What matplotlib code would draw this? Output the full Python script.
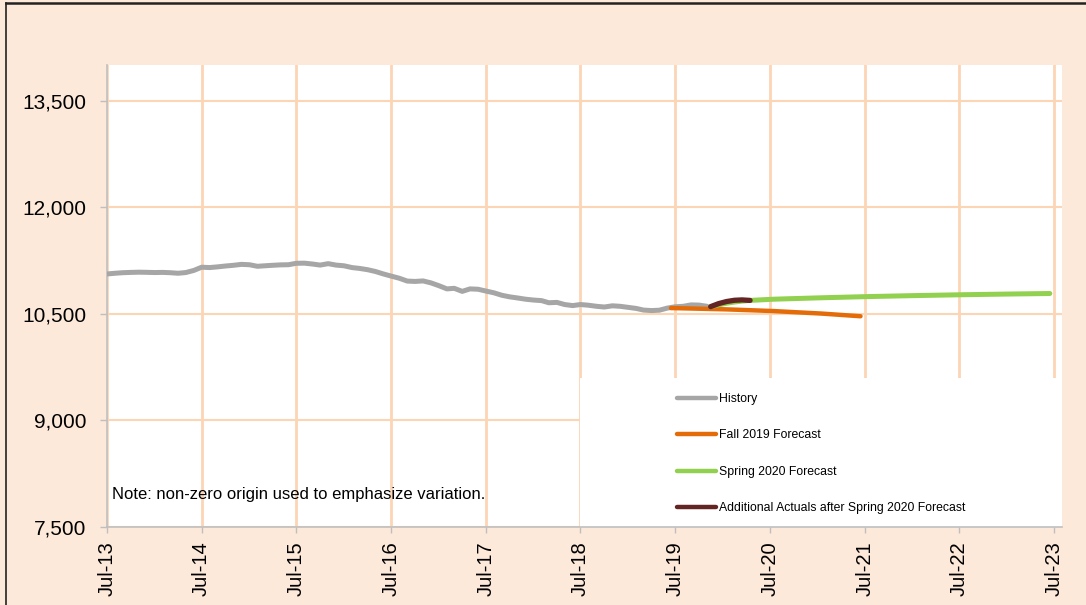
import matplotlib
matplotlib.use("Agg")
import matplotlib.pyplot as plt
import matplotlib.dates as mdates
from matplotlib.lines import Line2D
from matplotlib.patches import Rectangle
from matplotlib.ticker import FuncFormatter, FixedLocator
import pandas as pd

plt.rcParams['font.family'] = ['Liberation Sans', 'DejaVu Sans']

# ---------------- data ----------------
history_start = "2013-07-01"
history_values = [
    11060, 11070, 11078, 11082, 11085, 11083, 11080, 11082, 11078, 11070, 11080, 11110,
    11155, 11150, 11160, 11172, 11182, 11195, 11190, 11168, 11175, 11182, 11188, 11190,
    11210, 11212, 11200, 11185, 11205, 11185, 11175, 11150, 11138, 11120, 11095, 11060,
    11030, 11000, 10960, 10955, 10962, 10935, 10895, 10850, 10858, 10815, 10850, 10845,
    10820, 10795, 10760, 10738, 10722, 10705, 10693, 10685, 10655, 10660, 10630, 10615,
    10630, 10620, 10605, 10595, 10612, 10605, 10590, 10575, 10552, 10545, 10550, 10580,
    10598, 10605, 10625, 10622, 10605,
]

fall2019_dates = ["2019-06-15", "2019-07-15", "2020-01-15", "2020-07-15", "2021-01-15", "2021-06-15"]
fall2019_values = [10580, 10578, 10562, 10538, 10503, 10465]

spring2020_dates = ["2019-11-15", "2019-12-15", "2020-01-15", "2020-02-15", "2020-03-15", "2020-04-15",
                    "2020-07-15", "2021-01-15", "2021-07-15", "2022-01-15", "2022-07-15",
                    "2023-01-15", "2023-06-15"]
spring2020_values = [10600, 10625, 10648, 10665, 10678, 10688,
                     10705, 10725, 10742, 10756, 10768, 10778, 10785]

actuals_dates = ["2019-11-15", "2019-12-15", "2020-01-15", "2020-02-15", "2020-03-15", "2020-04-15"]
actuals_values = [10600, 10642, 10672, 10690, 10695, 10688]

y_ticks = [7500, 9000, 10500, 12000, 13500]
x_tick_years = list(range(2013, 2024))

series_labels = ["History", "Fall 2019 Forecast", "Spring 2020 Forecast",
                 "Additional Actuals after Spring 2020 Forecast"]
note_text = "Note: non-zero origin used to emphasize variation."

# ---------------- figure ----------------
BG = "#FDE9D9"
GRID = "#FCD5B4"
fig = plt.figure(figsize=(10.86, 6.05), dpi=100, facecolor=BG)
ax = fig.add_axes([107/1086, 1-527/605, (1062-107)/1086, (527-65)/605])
ax.set_facecolor("white")

hist_dates = pd.date_range(history_start, periods=len(history_values), freq="MS")

ax.plot(hist_dates, history_values, color="#A6A6A6", lw=3.6, solid_capstyle="round", zorder=3,
        label=series_labels[0])
ax.plot(pd.to_datetime(fall2019_dates), fall2019_values, color="#E36C09", lw=3.2,
        solid_capstyle="round", zorder=4, label=series_labels[1])
ax.plot(pd.to_datetime(spring2020_dates), spring2020_values, color="#92D050", lw=3.6,
        solid_capstyle="round", zorder=4, label=series_labels[2])
ax.plot(pd.to_datetime(actuals_dates), actuals_values, color="#632523", lw=3.8,
        solid_capstyle="round", zorder=5, label=series_labels[3])

ax.set_xlim(pd.Timestamp("2013-07-01"), pd.Timestamp("2023-08-01"))
ax.set_ylim(7500, 14000)

xt = [mdates.date2num(pd.Timestamp(f"{y}-07-01")) for y in x_tick_years]
ax.xaxis.set_major_locator(FixedLocator(xt))
ax.xaxis.set_major_formatter(mdates.DateFormatter("%b-%y"))
ax.set_yticks(y_ticks)
ax.yaxis.set_major_formatter(FuncFormatter(lambda v, p: f"{int(v):,}"))

ax.grid(True, axis="x", color=GRID, lw=2.0, zorder=0)
ax.grid(True, axis="y", color=GRID, lw=1.5, zorder=0)
ax.set_axisbelow(True)

for s in ["top", "right"]:
    ax.spines[s].set_visible(False)
for s in ["left", "bottom"]:
    ax.spines[s].set_color("#BFBFBF")
    ax.spines[s].set_linewidth(1.2)

ax.tick_params(axis="y", direction="out", length=5, width=1, color="#BFBFBF",
               labelsize=15, pad=10, labelcolor="black")
ax.tick_params(axis="x", direction="out", length=4, width=1, color="#BFBFBF",
               labelsize=14.5, pad=6, labelrotation=90, labelcolor="black")

# white legend area
ax.add_patch(Rectangle(((580-107)/955, 0), 1-(580-107)/955, (527-378)/462,
                       transform=ax.transAxes, facecolor="white", edgecolor="none", zorder=2))

leg = ax.legend(loc="upper left", bbox_to_anchor=((677-107)/955, (527-393)/462),
                frameon=False, fontsize=8.8, handlelength=3.2, handletextpad=0.25,
                labelspacing=2.0, borderpad=0, borderaxespad=0)
for h in leg.get_lines():
    h.set_linewidth(3.2)
leg.set_zorder(6)

ax.text((112-107)/955, (527-495)/462, note_text, transform=ax.transAxes,
        fontsize=12.0, va="center", ha="left", zorder=6)

# figure border (top and left)
fig.add_artist(Line2D([6/1086, 6/1086], [0, 1-3/605], transform=fig.transFigure,
                      color="#222222", lw=1.2))
fig.add_artist(Line2D([6/1086, 1], [1-3/605, 1-3/605], transform=fig.transFigure,
                      color="#222222", lw=1.8))

fig.savefig("out.png", dpi=100, facecolor=BG)
